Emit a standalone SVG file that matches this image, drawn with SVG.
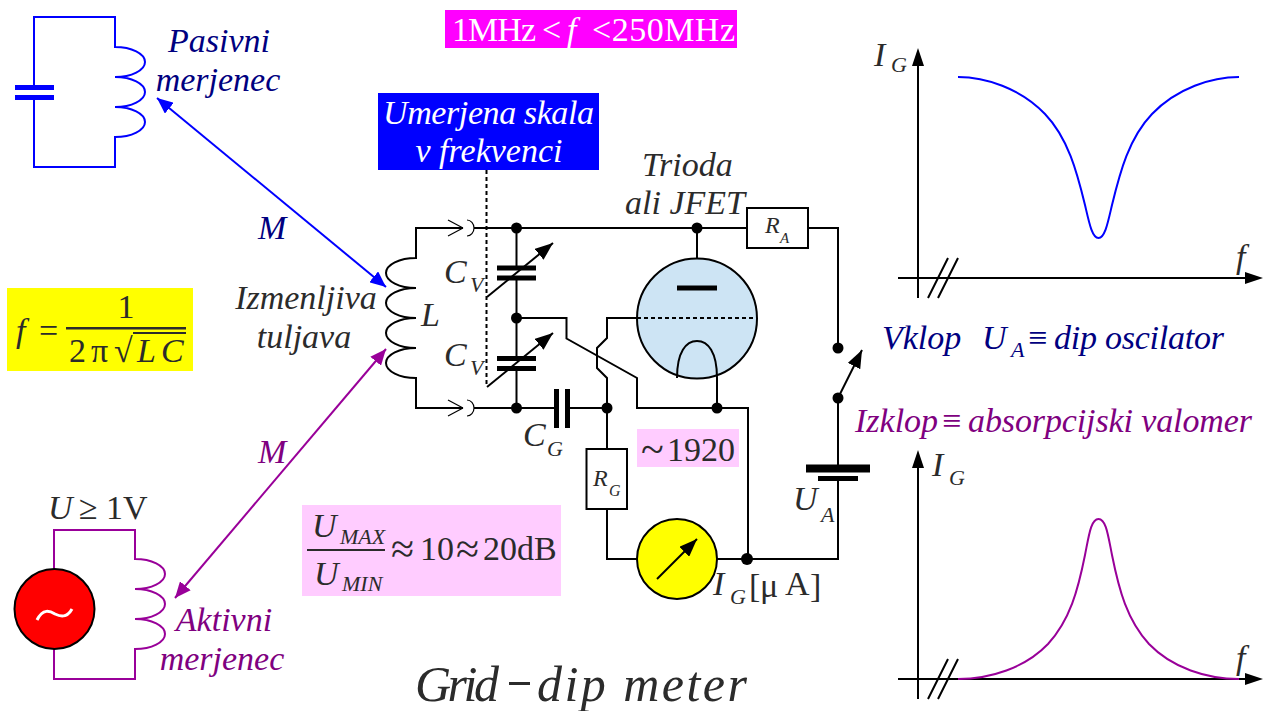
<svg xmlns="http://www.w3.org/2000/svg" width="1263" height="711" viewBox="0 0 1263 711">
<defs>
<style>
text{font-family:"Liberation Serif","Times New Roman",serif;fill:#2b2b2b;font-size:34px}
.i{font-style:italic}
.m{text-anchor:middle}
.s{font-size:22px}
.sym{font-size:42px}
.big{font-size:50px}
.navy{fill:#000080}
.pur{fill:#800080}
.w{fill:#fff}
.wire{fill:none;stroke:#000;stroke-width:2}
.thin{fill:none;stroke:#000;stroke-width:1.200}
.blue{fill:none;stroke:#0000ff;stroke-width:2}
.violet{fill:none;stroke:#990099;stroke-width:2}
.plate{fill:#000;stroke:none}
.bplate{fill:#0000ff}
.dash{fill:none;stroke:#000;stroke-width:2;stroke-dasharray:4 3}
</style>
<marker id="ab" markerUnits="userSpaceOnUse" markerWidth="16" markerHeight="14" refX="16" refY="7" orient="auto-start-reverse"><path d="M0,0L16,7L0,14z" fill="#0000ff"/></marker>
<marker id="ap" markerUnits="userSpaceOnUse" markerWidth="16" markerHeight="14" refX="16" refY="7" orient="auto-start-reverse"><path d="M0,0L16,7L0,14z" fill="#990099"/></marker>
<marker id="ak" markerUnits="userSpaceOnUse" markerWidth="18" markerHeight="14" refX="18" refY="7" orient="auto"><path d="M0,0L18,7L0,14z" fill="#000"/></marker>
</defs>
<rect width="1263" height="711" fill="#fff"/>

<g id="freq-range">
<rect x="445" y="10" width="292" height="38" fill="#ff00ff"/>
<text x="452" y="41" class="w" textLength="84">1MHz</text>
<text x="542" y="41" class="w">&lt;</text>
<text x="567" y="41" class="w i">f</text>
<text x="592" y="41" class="w" textLength="143">&lt;250MHz</text>
</g>

<g id="scale-label">
<rect x="378" y="93" width="221" height="77" fill="#0000ff"/>
<text x="488.500" y="124" class="w i m" textLength="211">Umerjena skala</text>
<text x="489" y="162" class="w i m">v  frekvenci</text>
</g>

<g id="passive-meter">
<path class="blue" d="M34,87V17H115V47A30,15 0 0 1 115,77A30,15 0 0 1 115,107A30,15 0 0 1 115,137V167H34V97"/>
<rect class="bplate" x="15" y="85" width="39" height="5"/>
<rect class="bplate" x="15" y="95" width="39" height="5"/>
<text x="219" y="52" class="i m navy">Pasivni</text>
<text x="218" y="91" class="i m navy">merjenec</text>
</g>

<g id="active-meter">
<path class="violet" d="M54,570V530H135V559A30,15 0 0 1 135,589A30,15 0 0 1 135,619A30,15 0 0 1 135,649V679H54V649"/>
<circle cx="54.500" cy="609" r="40" fill="#ff0000" stroke="#000" stroke-width="2"/>
<path d="M37,620C43,608 50,611 55,614C61,617 67,618 72,609" fill="none" stroke="#fff" stroke-width="3"/>
<text x="48" y="519" class="i">U</text>
<text x="79" y="519">≥</text>
<text x="106" y="519">1V</text>
<text x="224" y="631" class="i m pur">Aktivni</text>
<text x="222" y="670" class="i m pur">merjenec</text>
</g>

<g id="formula">
<rect x="7" y="288" width="186" height="83" fill="#ffff00"/>
<text x="16" y="342" class="i">f</text>
<text x="39" y="342">=</text>
<rect x="66" y="327" width="120" height="2.500" fill="#2b2b2b"/>
<text x="126" y="318" class="m">1</text>
<text x="69" y="362">2</text>
<text x="91" y="362">π</text>
<text x="114" y="362">√</text>
<rect x="133" y="332" width="53" height="2" fill="#2b2b2b"/>
<text x="137" y="362" class="i">L</text>
<text x="161" y="362" class="i">C</text>
</g>

<g id="ratio">
<rect x="302" y="505" width="259" height="91" fill="#ffccff"/>
<rect x="307" y="549" width="78" height="2" fill="#2b2b2b"/>
<text x="312" y="537" class="i">U</text>
<text x="340" y="544" class="s i">MAX</text>
<text x="314" y="585" class="i">U</text>
<text x="342" y="591" class="s i">MIN</text>
<text x="391" y="563" class="sym">≈</text>
<text x="420" y="560">10</text>
<text x="456" y="563" class="sym">≈</text>
<text x="483" y="560">20dB</text>
</g>

<g id="year">
<rect x="637" y="429" width="102" height="38" fill="#ffccff"/>
<text x="641" y="463" class="sym">~</text>
<text x="667" y="461">1920</text>
</g>

<g id="connectors">
<path class="thin" d="M463,228L448,220M463,228L448,236"/>
<path class="thin" d="M463,408L448,400M463,408L448,416"/>
<path class="thin" d="M467,220A7,8 0 0 1 467,236"/>
<path class="thin" d="M467,400A7,8 0 0 1 467,416"/>
<path class="wire" d="M463,228H416V258A30,15 0 0 0 416,288A30,15 0 0 0 416,318A30,15 0 0 0 416,348A30,15 0 0 0 416,378V408H463"/>
<path class="wire" d="M474,228H747M808,228H838V348"/>
<path class="wire" d="M516.500,228V267M516.500,278V358M516.500,369V408"/>
<path class="wire" d="M474,408H555M568,408H607"/>
<path class="wire" d="M516.500,318H566.500V338.500L637,378V408H748V559"/>
<path class="wire" d="M637,318H607V338L597,348V368L607,378V449M607,509V559H637"/>
<path class="wire" d="M717,559H838V478M838,465V398"/>
<path class="wire" d="M697,228V288"/>
<path class="wire" d="M838,398L862,350" marker-end="url(#ak)"/>
<path class="dash" d="M486.500,170V387"/>
<path class="wire" d="M487,297L553,243" marker-end="url(#ak)"/>
<path class="wire" d="M487,387L553,333" marker-end="url(#ak)"/>
<path class="blue" d="M157,98L386,287" marker-start="url(#ab)" marker-end="url(#ab)"/>
<path class="violet" d="M175,598L386,349" marker-start="url(#ap)" marker-end="url(#ap)"/>
</g>

<g id="caps">
<rect class="plate" x="497" y="265.500" width="39" height="5"/>
<rect class="plate" x="497" y="275.500" width="39" height="5"/>
<rect class="plate" x="497" y="356" width="39" height="5"/>
<rect class="plate" x="497" y="366" width="39" height="5"/>
<rect class="plate" x="554" y="389" width="5" height="39"/>
<rect class="plate" x="565" y="389" width="5" height="39"/>
</g>

<g id="tube">
<circle cx="697" cy="318.500" r="60" fill="#cde4f4" stroke="#000" stroke-width="2"/>
<path class="dash" d="M637,318H757"/>
<rect class="plate" x="677" y="285.500" width="40" height="5"/>
<path class="wire" d="M677,378C677,352 686,341 697,341C708,341 717,352 717,378V408"/>
</g>

<g id="RA"><rect x="747" y="208" width="61" height="40" fill="#fff" stroke="#000" stroke-width="2"/>
<text x="765" y="233" style="font-size:24px" class="i">R</text><text x="780" y="243" style="font-size:15px" class="i">A</text></g>

<g id="RG"><rect x="586.500" y="449" width="40.500" height="60" fill="#fff" stroke="#000" stroke-width="2"/>
<text x="593" y="486" style="font-size:24px" class="i">R</text><text x="609" y="496" style="font-size:16px" class="i">G</text></g>

<g id="meter">
<circle cx="677" cy="559" r="40" fill="#ffff00" stroke="#000" stroke-width="2"/>
<path class="wire" d="M657,579L697,539" marker-end="url(#ak)"/>
<text x="713" y="595" class="i">I</text>
<text x="730" y="604" class="s i">G</text>
<text x="749" y="597">[</text>
<text x="760" y="597">μ</text>
<text x="785" y="595">A</text>
<text x="810" y="597">]</text>
</g>

<g id="battery">
<rect class="plate" x="806" y="464.500" width="64" height="8"/>
<rect class="plate" x="818" y="476" width="40" height="5"/>
<text x="793" y="510" class="i">U</text>
<text x="821" y="522" class="s i">A</text>
</g>

<g id="dots" fill="#000">
<circle cx="516.500" cy="228" r="5.500"/><circle cx="697" cy="228" r="5.500"/><circle cx="516.500" cy="318" r="5.500"/><circle cx="516.500" cy="408" r="5.500"/><circle cx="607" cy="408" r="5.500"/><circle cx="717" cy="408" r="5.500"/><circle cx="838" cy="348" r="5.500"/><circle cx="838" cy="398" r="5.500"/><circle cx="747" cy="559" r="6"/>
</g>

<g id="labels">
<text x="642" y="176" class="i">Trioda</text>
<text x="625" y="214" class="i">ali JFET</text>
<text x="444" y="283" class="i">C</text><text x="470" y="292" class="s i">V</text>
<text x="444" y="366" class="i">C</text><text x="470" y="375" class="s i">V</text>
<text x="523" y="446" class="i">C</text><text x="547" y="456" class="s i">G</text>
<text x="306" y="309" class="i m">Izmenljiva</text>
<text x="304" y="348" class="i m">tuljava</text>
<text x="421" y="326" class="i">L</text>
<text x="258" y="239" class="i navy">M</text>
<text x="258" y="463" class="i pur">M</text>
<text x="882" y="349" class="i navy">Vklop</text>
<text x="982" y="349" class="i navy">U</text>
<text x="1011" y="357" class="s i navy">A</text>
<text x="1028" y="349" class="navy">≡</text>
<text x="1054" y="349" class="i navy" textLength="170">dip oscilator</text>
<text x="855" y="432" class="i pur">Izklop</text>
<text x="942" y="432" class="pur">≡</text>
<text x="968" y="432" class="i pur" textLength="284">absorpcijski valomer</text>
<text x="415" y="701" class="i big" textLength="84">Grid</text>
<rect x="509" y="682" width="21" height="3" fill="#2b2b2b"/>
<text x="537" y="701" class="i big" textLength="210">dip meter</text>
</g>

<g id="graph-dip">
<path class="wire" d="M918,298V65"/><path class="plate" d="M918,48L912,66H924z"/>
<path class="wire" d="M898,278H1247"/><path class="plate" d="M1263,278L1245,272V284z"/>
<path class="wire" d="M928,298L948,258M938,298L958,258"/>
<path class="blue" d="M958,77C985,77 1020,88 1045,114C1068,138 1077,172 1085,205C1089,222 1092,238 1098.500,238C1105,238 1108,222 1112,205C1120,172 1129,138 1152,114C1177,88 1212,77 1239,77"/>
<text x="874" y="66" class="i">I</text><text x="891" y="72" class="s i">G</text>
<text x="1236" y="268" class="i">f</text>
</g>

<g id="graph-peak">
<path class="wire" d="M918,699V466"/><path class="plate" d="M918,450L912,468H924z"/>
<path class="wire" d="M898,679H1247"/><path class="plate" d="M1263,679L1245,673V685z"/>
<path class="wire" d="M928,699L948,659M938,699L958,659"/>
<path class="violet" d="M958,679C990,679 1025,668 1048,644C1070,620 1078,590 1085,555C1089,535 1091,519 1098.500,519C1106,519 1108,535 1112,555C1119,590 1127,620 1149,644C1172,668 1207,679 1239,679"/>
<text x="932" y="476" class="i">I</text><text x="949" y="485" class="s i">G</text>
<text x="1236" y="669" class="i">f</text>
</g>
</svg>
